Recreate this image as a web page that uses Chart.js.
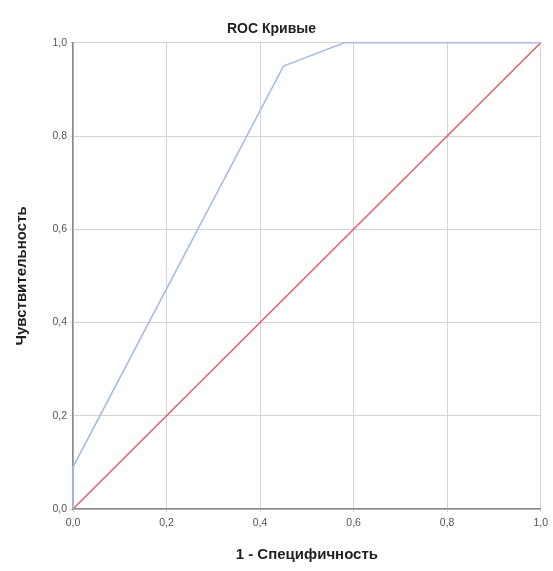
<!DOCTYPE html>
<html>
<head>
<meta charset="utf-8">
<script src="https://cdn.jsdelivr.net/npm/chart.js@4.4.1/dist/chart.umd.min.js"></script>
<style>
  body { margin: 0; background: #fff; }
  canvas { display: block; }
</style>
</head>
<body>
<canvas id="roc-chart" width="553" height="571"></canvas>
<script>
'use strict';

// ROC curve points (1 - specificity, sensitivity)
const rocFpr = [0, 0, 0.45, 0.58, 1];
const rocTpr = [0, 0.09, 0.95, 1, 1];
// reference diagonal
const refFpr = [0, 1];
const refTpr = [0, 1];
const tickValues = [0, 0.2, 0.4, 0.6, 0.8, 1];

function toPoints(xs, ys) {
  let pts = [];
  for (let i = 0; i < xs.length; i++) {
    pts.push({ x: xs[i], y: ys[i] });
  }
  return pts;
}

function commaTick(value) {
  return Number(value).toFixed(1).replace('.', ',');
}

const fontFamily = '"Liberation Sans", Arial, sans-serif';
Chart.defaults.font.family = fontFamily;

let rocCanvas = document.getElementById('roc-chart');

new Chart(rocCanvas, {
  type: 'scatter',
  data: {
    datasets: [
      {
        label: 'ROC',
        data: toPoints(rocFpr, rocTpr),
        showLine: true,
        borderColor: '#a9bde0',
        borderWidth: 1.6,
        pointRadius: 0,
        tension: 0,
        clip: false
      },
      {
        label: 'Reference',
        data: toPoints(refFpr, refTpr),
        showLine: true,
        borderColor: '#e06272',
        borderWidth: 1.6,
        pointRadius: 0,
        tension: 0,
        clip: false
      }
    ]
  },
  options: {
    responsive: false,
    animation: false,
    layout: { padding: { top: 21, right: 10, bottom: 0, left: 0 } },
    plugins: {
      legend: { display: false },
      tooltip: { enabled: false },
      title: {
        display: true,
        text: 'ROC Кривые',
        color: '#222',
        font: { size: 14, weight: 'bold' },
        padding: { top: 0, bottom: 5 }
      }
    },
    scales: {
      x: {
        type: 'linear',
        min: 0,
        max: 1,
        afterBuildTicks: function (scale) {
          scale.ticks = tickValues.map(function (v) { return { value: v }; });
        },
        afterFit: function (scale) { scale.height = 62; },
        ticks: {
          callback: commaTick,
          color: '#555',
          font: { size: 10.5 },
          padding: 5,
          maxRotation: 0
        },
        grid: { color: '#d4d4d4', tickLength: 3, lineWidth: 1 },
        border: { color: '#8a8a8a', width: 1.5 },
        title: {
          display: true,
          text: '1 - Специфичность',
          color: '#222',
          font: { size: 15, weight: 'bold' },
          padding: { top: 0, bottom: 7 }
        }
      },
      y: {
        type: 'linear',
        min: 0,
        max: 1,
        afterBuildTicks: function (scale) {
          scale.ticks = tickValues.map(function (v) { return { value: v }; });
        },
        afterFit: function (scale) { scale.width = 73; },
        ticks: {
          callback: commaTick,
          color: '#555',
          font: { size: 10.5 },
          padding: 3
        },
        grid: { color: '#d4d4d4', tickLength: 3, lineWidth: 1 },
        border: { color: '#8a8a8a', width: 1.5 },
        title: {
          display: true,
          text: 'Чувствительность',
          color: '#222',
          font: { size: 15, weight: 'bold' },
          padding: { top: 13, bottom: 0 }
        }
      }
    }
  }
});
</script>
</body>
</html>
